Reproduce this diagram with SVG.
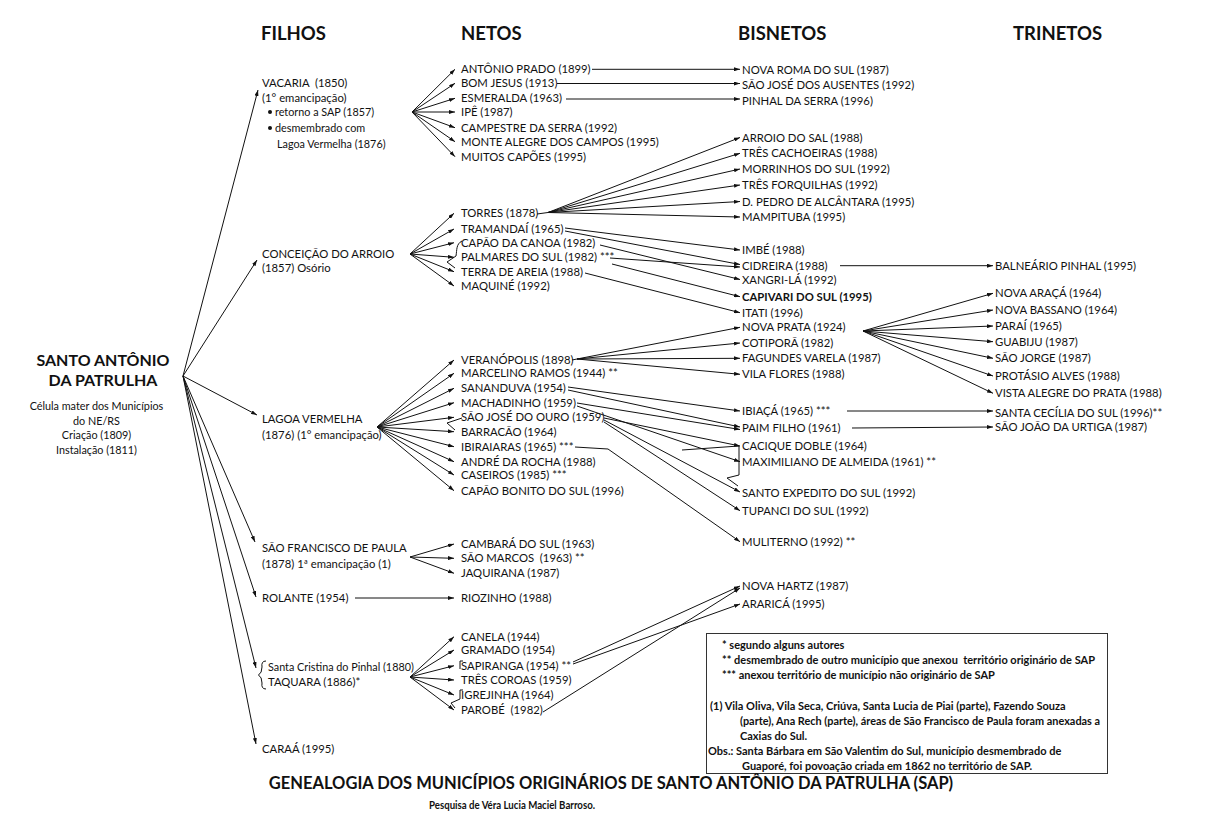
<svg xmlns="http://www.w3.org/2000/svg" width="1210" height="823" viewBox="0 0 1210 823">
<style>
text{font-family:Lato,"Liberation Sans",sans-serif;fill:#111}
.h{font-size:18.5px;font-weight:bold}
.n{font-size:11.3px}
.sm{font-size:10.8px}
.bd{font-weight:bold}
.lg{font-size:11px;font-weight:bold}
.t{font-size:16.5px;font-weight:bold}
.c line,.c polyline,.c path{stroke:#111;stroke-width:1;fill:none}
.ar{marker-end:url(#a)}
</style>
<defs><marker id="a" viewBox="0 0 6 4" refX="6" refY="2" markerWidth="6" markerHeight="4" orient="auto" markerUnits="userSpaceOnUse"><path d="M0,0L6,2L0,4z" fill="#111"/></marker></defs>
<rect width="1210" height="823" fill="#fff"/>

<g id="headers">
<text class="h" x="261" y="40">FILHOS</text>
<text class="h" x="461" y="40">NETOS</text>
<text class="h" x="738" y="40">BISNETOS</text>
<text class="h" x="1013" y="40">TRINETOS</text>
</g>

<g id="root">
<text x="103" y="366" text-anchor="middle" style="font-size:16px;font-weight:bold">SANTO ANTÔNIO</text>
<text x="103" y="386" text-anchor="middle" style="font-size:16px;font-weight:bold">DA PATRULHA</text>
<text class="sm" x="96.5" y="410" text-anchor="middle">Célula mater dos Municípios</text>
<text class="sm" x="96.5" y="424.5" text-anchor="middle">do NE/RS</text>
<text class="sm" x="96.5" y="439" text-anchor="middle">Criação (1809)</text>
<text class="sm" x="96.5" y="453.5" text-anchor="middle">Instalação (1811)</text>
</g>

<g id="f-vacaria">
<text class="n" x="262" y="87" xml:space="preserve">VACARIA  (1850)</text>
<text class="n" x="262" y="102">(1° emancipação)</text>
<circle cx="270" cy="112" r="2" fill="#111"/>
<text class="sm" x="275" y="116">retorno a SAP (1857)</text>
<circle cx="270" cy="128" r="2" fill="#111"/>
<text class="sm" x="275" y="132">desmembrado com</text>
<text class="sm" x="277" y="148">Lagoa Vermelha (1876)</text>
</g>
<g id="f-conceicao">
<text class="n" x="262" y="258">CONCEIÇÃO DO ARROIO</text>
<text class="n" x="262" y="272">(1857) Osório</text>
</g>
<g id="f-lagoa">
<text class="n" x="262" y="423">LAGOA VERMELHA</text>
<text class="n" x="262" y="439">(1876) (1° emancipação)</text>
</g>
<g id="f-sfp">
<text class="n" x="262" y="552">SÃO FRANCISCO DE PAULA</text>
<text class="n" x="262" y="568">(1878) 1ª emancipação (1)</text>
</g>
<g id="f-rolante"><text class="n" x="262" y="602">ROLANTE (1954)</text></g>
<g id="f-taquara">
<path d="M266,661 Q261,661 262,667 Q262,673 258.5,675 Q262,677 262,683 Q261,689 266,689" stroke="#111" fill="none"/>
<text class="sm" x="268" y="671">Santa Cristina do Pinhal (1880)</text>
<text class="n" x="268" y="686">TAQUARA (1886)*</text>
</g>
<g id="f-caraa"><text class="n" x="262" y="753">CARAÁ (1995)</text></g>

<g id="netos-vacaria">
<text class="n" x="461" y="73.3">ANTÔNIO PRADO (1899)</text>
<text class="n" x="461" y="87.3">BOM JESUS (1913)</text>
<text class="n" x="461" y="102.3">ESMERALDA (1963)</text>
<text class="n" x="461" y="115.7">IPÊ (1987)</text>
<text class="n" x="461" y="131.7">CAMPESTRE DA SERRA (1992)</text>
<text class="n" x="461" y="145.7">MONTE ALEGRE DOS CAMPOS (1995)</text>
<text class="n" x="461" y="160.7">MUITOS CAPÕES (1995)</text>
</g>
<g id="netos-conceicao">
<text class="n" x="461" y="217.3">TORRES (1878)</text>
<text class="n" x="461" y="233">TRAMANDAÍ (1965)</text>
<text class="n" x="461" y="246.7">CAPÃO DA CANOA (1982)</text>
<text class="n" x="461" y="261.3">PALMARES DO SUL (1982) ***</text>
<text class="n" x="461" y="275.7">TERRA DE AREIA (1988)</text>
<text class="n" x="461" y="290">MAQUINÉ (1992)</text>
</g>
<g id="netos-lagoa">
<text class="n" x="461" y="364">VERANÓPOLIS (1898)</text>
<text class="n" x="461" y="377.3">MARCELINO RAMOS (1944) **</text>
<text class="n" x="461" y="392.3">SANANDUVA (1954)</text>
<text class="n" x="461" y="406.7">MACHADINHO (1959)</text>
<text class="n" x="461" y="421.3">SÃO JOSÉ DO OURO (1959)</text>
<text class="n" x="461" y="435.7">BARRACÃO (1964)</text>
<text class="n" x="461" y="450.7">IBIRAIARAS (1965) ***</text>
<text class="n" x="461" y="465.7">ANDRÉ DA ROCHA (1988)</text>
<text class="n" x="461" y="479">CASEIROS (1985) ***</text>
<text class="n" x="461" y="494.7">CAPÃO BONITO DO SUL (1996)</text>
</g>
<g id="netos-sfp">
<text class="n" x="461" y="548">CAMBARÁ DO SUL (1963)</text>
<text class="n" x="461" y="562.3" xml:space="preserve">SÃO MARCOS  (1963) **</text>
<text class="n" x="461" y="577.3">JAQUIRANA (1987)</text>
</g>
<g id="netos-rolante"><text class="n" x="461" y="602">RIOZINHO (1988)</text></g>
<g id="netos-taquara">
<text class="n" x="461" y="640.7">CANELA (1944)</text>
<text class="n" x="461" y="654">GRAMADO (1954)</text>
<text class="n" x="461" y="669.7">SAPIRANGA (1954) **</text>
<text class="n" x="461" y="684">TRÊS COROAS (1959)</text>
<text class="n" x="461" y="699">IGREJINHA (1964)</text>
<text class="n" x="461" y="714" xml:space="preserve">PAROBÉ  (1982)</text>
</g>

<g id="bisnetos">
<text class="n" x="742" y="73.5">NOVA ROMA DO SUL (1987)</text>
<text class="n" x="742" y="89">SÃO JOSÉ DOS AUSENTES (1992)</text>
<text class="n" x="742" y="104.5">PINHAL DA SERRA (1996)</text>
<text class="n" x="742" y="141.5">ARROIO DO SAL (1988)</text>
<text class="n" x="742" y="157.3">TRÊS CACHOEIRAS (1988)</text>
<text class="n" x="742" y="173">MORRINHOS DO SUL (1992)</text>
<text class="n" x="742" y="189">TRÊS FORQUILHAS (1992)</text>
<text class="n" x="742" y="205.5">D. PEDRO DE ALCÂNTARA (1995)</text>
<text class="n" x="742" y="221">MAMPITUBA (1995)</text>
<text class="n" x="742" y="254">IMBÉ (1988)</text>
<text class="n" x="742" y="269.7">CIDREIRA (1988)</text>
<text class="n" x="742" y="283.5">XANGRI-LÁ (1992)</text>
<text class="n bd" x="742" y="300.7">CAPIVARI DO SUL (1995)</text>
<text class="n" x="742" y="316.7">ITATI (1996)</text>
<text class="n" x="742" y="331.3">NOVA PRATA (1924)</text>
<text class="n" x="742" y="347">COTIPORÃ (1982)</text>
<text class="n" x="742" y="362.3">FAGUNDES VARELA (1987)</text>
<text class="n" x="742" y="378.3">VILA FLORES (1988)</text>
<text class="n" x="742" y="415">IBIAÇÁ (1965) ***</text>
<text class="n" x="742" y="432.3">PAIM FILHO (1961)</text>
<text class="n" x="742" y="450">CACIQUE DOBLE (1964)</text>
<text class="n" x="742" y="465.7">MAXIMILIANO DE ALMEIDA (1961) **</text>
<text class="n" x="742" y="497.3">SANTO EXPEDITO DO SUL (1992)</text>
<text class="n" x="742" y="514.7">TUPANCI DO SUL (1992)</text>
<text class="n" x="742" y="545.7">MULITERNO (1992) **</text>
<text class="n" x="742" y="590">NOVA HARTZ (1987)</text>
<text class="n" x="742" y="608">ARARICÁ (1995)</text>
</g>

<g id="trinetos">
<text class="n" x="995" y="269.7">BALNEÁRIO PINHAL (1995)</text>
<text class="n" x="995" y="297.3">NOVA ARAÇÁ (1964)</text>
<text class="n" x="995" y="314">NOVA BASSANO (1964)</text>
<text class="n" x="995" y="330">PARAÍ (1965)</text>
<text class="n" x="995" y="345.7">GUABIJU (1987)</text>
<text class="n" x="995" y="362.3">SÃO JORGE (1987)</text>
<text class="n" x="995" y="380">PROTÁSIO ALVES (1988)</text>
<text class="n" x="995" y="397.3">VISTA ALEGRE DO PRATA (1988)</text>
<text class="n" x="995" y="416.7">SANTA CECÍLIA DO SUL (1996)**</text>
<text class="n" x="995" y="430.7">SÃO JOÃO DA URTIGA (1987)</text>
</g>

<g id="connectors" class="c">
<line class="ar" x1="183" y1="376" x2="258" y2="90"/>
<line class="ar" x1="183" y1="376" x2="257" y2="260"/>
<line class="ar" x1="183" y1="376" x2="257" y2="415"/>
<line class="ar" x1="183" y1="376" x2="255" y2="542"/>
<line class="ar" x1="183" y1="376" x2="256" y2="597"/>
<line class="ar" x1="183" y1="376" x2="256" y2="668"/>
<line class="ar" x1="183" y1="376" x2="256" y2="744"/>
<line class="ar" x1="412" y1="112" x2="455" y2="69.3"/>
<line class="ar" x1="412" y1="112" x2="455" y2="83.3"/>
<line class="ar" x1="412" y1="112" x2="455" y2="98.3"/>
<line class="ar" x1="412" y1="112" x2="455" y2="112"/>
<line class="ar" x1="412" y1="112" x2="455" y2="127.7"/>
<line class="ar" x1="412" y1="112" x2="455" y2="141.7"/>
<line class="ar" x1="412" y1="112" x2="455" y2="156.7"/>
<line class="ar" x1="592" y1="69.3" x2="740" y2="69.3"/>
<line class="ar" x1="557" y1="83.5" x2="740" y2="83.5"/>
<line class="ar" x1="566" y1="99" x2="740" y2="99"/>
<line class="ar" x1="410" y1="254" x2="454" y2="213.3"/>
<line class="ar" x1="410" y1="254" x2="454" y2="229"/>
<line class="ar" x1="410" y1="254" x2="454" y2="242.7"/>
<line class="ar" x1="410" y1="254" x2="454" y2="257.3"/>
<line class="ar" x1="410" y1="254" x2="454" y2="271.7"/>
<line class="ar" x1="410" y1="254" x2="454" y2="286"/>
<path d="M462,241 C456,244 457,250 456,256 L447,262 L455,268"/>
<line x1="537" y1="214" x2="548" y2="212.5"/>
<line class="ar" x1="548" y1="212.5" x2="740" y2="137.5"/>
<line class="ar" x1="548" y1="212.5" x2="740" y2="153.3"/>
<line class="ar" x1="548" y1="212.5" x2="740" y2="169"/>
<line class="ar" x1="548" y1="212.5" x2="740" y2="185"/>
<line class="ar" x1="548" y1="212.5" x2="740" y2="201.5"/>
<line class="ar" x1="548" y1="212.5" x2="740" y2="217"/>
<line class="ar" x1="565" y1="228" x2="740" y2="250"/>
<line class="ar" x1="565" y1="231" x2="740" y2="264.5"/>
<line class="ar" x1="600" y1="245" x2="740" y2="279.5"/>
<line class="ar" x1="610" y1="258" x2="740" y2="267"/>
<line class="ar" x1="612" y1="264" x2="740" y2="296.7"/>
<line class="ar" x1="585" y1="273" x2="740" y2="312.7"/>
<line class="ar" x1="840" y1="265.7" x2="993" y2="265.7"/>
<line class="ar" x1="377" y1="427" x2="454" y2="360"/>
<line class="ar" x1="377" y1="427" x2="454" y2="373.3"/>
<line class="ar" x1="377" y1="427" x2="454" y2="388.3"/>
<line class="ar" x1="377" y1="427" x2="454" y2="402.7"/>
<line class="ar" x1="377" y1="427" x2="454" y2="417.3"/>
<line class="ar" x1="377" y1="427" x2="454" y2="431.7"/>
<line class="ar" x1="377" y1="427" x2="454" y2="446.7"/>
<line class="ar" x1="377" y1="427" x2="454" y2="461.7"/>
<line class="ar" x1="377" y1="427" x2="454" y2="475"/>
<line class="ar" x1="377" y1="427" x2="454" y2="490.7"/>
<polyline points="462,418 447,423 455,430"/>
<line x1="572" y1="360" x2="577" y2="359"/>
<line class="ar" x1="577" y1="359" x2="740" y2="327.3"/>
<line class="ar" x1="577" y1="359" x2="740" y2="343"/>
<line class="ar" x1="577" y1="359" x2="740" y2="358.3"/>
<line class="ar" x1="577" y1="359" x2="740" y2="374.3"/>
<line class="ar" x1="863" y1="331" x2="993" y2="293.3"/>
<line class="ar" x1="863" y1="331" x2="993" y2="310"/>
<line class="ar" x1="863" y1="331" x2="993" y2="326"/>
<line class="ar" x1="863" y1="331" x2="993" y2="341.7"/>
<line class="ar" x1="863" y1="331" x2="993" y2="358.3"/>
<line class="ar" x1="863" y1="331" x2="993" y2="376"/>
<line class="ar" x1="863" y1="331" x2="993" y2="393.3"/>
<line class="ar" x1="568" y1="387" x2="740" y2="411"/>
<line class="ar" x1="568" y1="390" x2="740" y2="427"/>
<line class="ar" x1="577" y1="403" x2="740" y2="429.5"/>
<line class="ar" x1="577" y1="406" x2="740" y2="461.7"/>
<line class="ar" x1="604" y1="418" x2="740" y2="446"/>
<line class="ar" x1="604" y1="420" x2="740" y2="492"/>
<line class="ar" x1="604" y1="422" x2="740" y2="510.7"/>
<polyline class="ar" points="575,447 608,449 740,541.7"/>
<polyline points="682,450 739,446 739,475 727,478 738,486"/>
<line class="ar" x1="847" y1="411" x2="993" y2="411"/>
<line class="ar" x1="852" y1="428" x2="993" y2="427"/>
<line class="ar" x1="410" y1="557" x2="454" y2="544"/>
<line class="ar" x1="410" y1="557" x2="454" y2="558.3"/>
<line class="ar" x1="410" y1="557" x2="454" y2="573.3"/>
<line class="ar" x1="355" y1="598" x2="454" y2="598"/>
<line class="ar" x1="410" y1="677" x2="454" y2="636.7"/>
<line class="ar" x1="410" y1="677" x2="454" y2="650"/>
<line class="ar" x1="410" y1="677" x2="454" y2="665.7"/>
<line class="ar" x1="410" y1="677" x2="454" y2="680"/>
<line class="ar" x1="410" y1="677" x2="454" y2="695"/>
<line class="ar" x1="410" y1="677" x2="454" y2="710"/>
<polyline points="463,661 460,661 460,669"/>
<polyline points="463,690 460,690 460,699 451,703 455,708"/>
<line class="ar" x1="573" y1="662" x2="740" y2="586"/>
<line class="ar" x1="573" y1="664" x2="740" y2="604"/>
<line class="ar" x1="543" y1="712" x2="740" y2="588"/>
</g>

<g id="legend">
<rect x="706.5" y="633.5" width="401" height="140" fill="none" stroke="#333" stroke-width="1"/>
<text class="lg" x="722" y="649">* segundo alguns autores</text>
<text class="lg" x="722" y="664" xml:space="preserve">** desmembrado de outro município que anexou  território originário de SAP</text>
<text class="lg" x="722" y="679">*** anexou território de município não originário de SAP</text>
<text class="lg" x="710" y="710">(1) Vila Oliva, Vila Seca, Criúva, Santa Lucia de Piai (parte), Fazendo Souza</text>
<text class="lg" x="740" y="725" textLength="360" lengthAdjust="spacingAndGlyphs">(parte), Ana Rech (parte), áreas de São Francisco de Paula foram anexadas a</text>
<text class="lg" x="740" y="740">Caxias do Sul.</text>
<text class="lg" x="708" y="755">Obs.: Santa Bárbara em São Valentim do Sul, município desmembrado de</text>
<text class="lg" x="742" y="770">Guaporé, foi povoação criada em 1862 no território de SAP.</text>
</g>

<g id="title">
<text class="t" x="611" y="789" text-anchor="middle">GENEALOGIA DOS MUNICÍPIOS ORIGINÁRIOS DE SANTO ANTÔNIO DA PATRULHA (SAP)</text>
<text x="512" y="809" text-anchor="middle" style="font-size:10.5px;font-weight:bold" textLength="166" lengthAdjust="spacingAndGlyphs">Pesquisa de Véra Lucia Maciel Barroso.</text>
</g>
</svg>
